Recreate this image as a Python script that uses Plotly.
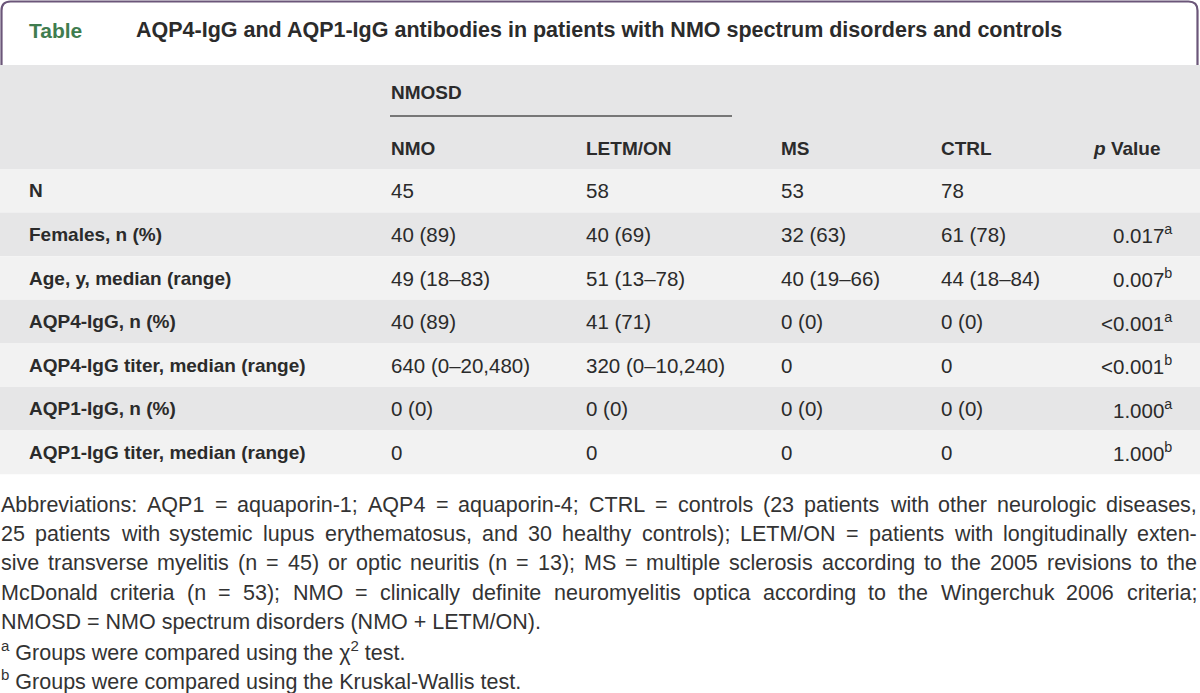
import plotly.graph_objects as go

# ---------------- data ----------------
title_tag = "Table"
title_text = "AQP4-IgG and AQP1-IgG antibodies in patients with NMO spectrum disorders and controls"
group_header = "NMOSD"
columns = ["NMO", "LETM/ON", "MS", "CTRL"]
p_header = "<i>p</i> Value"
row_labels = ["N", "Females, n (%)", "Age, y, median (range)", "AQP4-IgG, n (%)",
              "AQP4-IgG titer, median (range)", "AQP1-IgG, n (%)", "AQP1-IgG titer, median (range)"]
nmo = ["45", "40 (89)", "49 (18–83)", "40 (89)", "640 (0–20,480)", "0 (0)", "0"]
letm_on = ["58", "40 (69)", "51 (13–78)", "41 (71)", "320 (0–10,240)", "0 (0)", "0"]
ms = ["53", "32 (63)", "40 (19–66)", "0 (0)", "0", "0 (0)", "0"]
ctrl = ["78", "61 (78)", "44 (18–84)", "0 (0)", "0", "0 (0)", "0"]
p_values = ["", "0.017", "0.007", "&lt;0.001", "&lt;0.001", "1.000", "1.000"]
p_notes = ["", "a", "b", "a", "b", "a", "b"]
footnote_justified = [
    "Abbreviations: AQP1 = aquaporin-1; AQP4 = aquaporin-4; CTRL = controls (23 patients with other neurologic diseases,",
    "25 patients with systemic lupus erythematosus, and 30 healthy controls); LETM/ON = patients with longitudinally exten-",
    "sive transverse myelitis (n = 45) or optic neuritis (n = 13); MS = multiple sclerosis according to the 2005 revisions to the",
    "McDonald criteria (n = 53); NMO = clinically definite neuromyelitis optica according to the Wingerchuk 2006 criteria;",
]
footnote_plain = [
    "NMOSD = NMO spectrum disorders (NMO + LETM/ON).",
    "<sup>a</sup> Groups were compared using the χ<sup>2</sup> test.",
    "<sup>b</sup> Groups were compared using the Kruskal-Wallis test.",
]

# ---------------- layout / style ----------------
W, H = 1200, 693
FONT = "Liberation Sans, Arial, Helvetica, sans-serif"
TXT = "#2b2b2b"
col_x = [390, 585, 780, 940]
p_right = 1173
p_head_right = 1162
label_x = 28
row_top0 = 169
row_h = 43.6
header_top = 65
foot_y0 = 505
foot_dy = 29.2
foot_right = 1196

# Arial / Liberation Sans advance widths (1/1000 em)
AW = {' ': 278, '!': 278, '(': 333, ')': 333, '+': 584, ',': 278, '-': 333, '.': 278, '/': 278,
      ':': 278, ';': 278, '=': 584, '<': 584, '>': 584}
for d in "0123456789":
    AW[d] = 556
AW.update(dict(zip("ABCDEFGHIJKLMNOPQRSTUVWXYZ",
                   [667, 667, 722, 722, 667, 611, 778, 722, 278, 500, 667, 556, 833, 722, 778, 667,
                    778, 722, 667, 611, 722, 667, 944, 667, 667, 611])))
AW.update(dict(zip("abcdefghijklmnopqrstuvwxyz",
                   [556, 556, 500, 556, 556, 278, 556, 556, 222, 222, 500, 222, 833, 556, 556, 556,
                    556, 333, 500, 278, 556, 500, 722, 500, 500, 500])))


def wem(s):
    return sum(AW.get(c, 556) for c in s) / 1000.0


fig = go.Figure()
shapes = []
ann = []

# header background
shapes.append(dict(type="rect", x0=0, x1=W, y0=header_top, y1=row_top0, fillcolor="#e6e6e7",
                   line=dict(width=0), layer="below"))
# row stripes
for i in range(len(row_labels)):
    y0 = row_top0 + i * row_h
    shapes.append(dict(type="rect", x0=0, x1=W, y0=y0, y1=y0 + row_h,
                       fillcolor="#f2f2f2" if i % 2 == 0 else "#e6e6e7",
                       line=dict(width=0), layer="below"))
# title box with rounded top corners
r = 9
shapes.append(dict(type="path",
                   path=f"M 1.5 {header_top} L 1.5 {1.5 + r} Q 1.5 1.5 {1.5 + r} 1.5 L {1197.5 - r} 1.5 "
                        f"Q 1197.5 1.5 1197.5 {1.5 + r} L 1197.5 {header_top}",
                   line=dict(color="#6b5679", width=2.2), fillcolor="rgba(0,0,0,0)"))
# NMOSD underline
shapes.append(dict(type="line", x0=col_x[0], x1=732, y0=116, y1=116,
                   line=dict(color="#777777", width=2)))


def add(text, x, y, size, xanchor="left", color=TXT, bold=False):
    ann.append(dict(x=x, y=y, xref="x", yref="y", text=text, showarrow=False, xanchor=xanchor,
                    yanchor="middle", borderpad=0,
                    font=dict(family=FONT, size=size, color=color,
                              weight="bold" if bold else "normal")))


# title
add(title_tag, 28, 30, 21, color="#3f7d4f", bold=True)
add(title_text, 135, 30, 21.5, bold=True)

# headers
add(group_header, col_x[0], 92, 19, bold=True)
for c, x in zip(columns, col_x):
    add(c, x, 148, 19, bold=True)
add(p_header, p_head_right, 148, 19, xanchor="right", bold=True)

# body
for i, lab in enumerate(row_labels):
    yc = row_top0 + i * row_h + row_h / 2
    add(lab, label_x, yc, 19, bold=True)
    for col, x in zip([nmo, letm_on, ms, ctrl], col_x):
        add(col[i], x, yc, 20.5)
    if p_values[i]:
        add(f"{p_values[i]}<sup>{p_notes[i]}</sup>", p_right, yc, 20.5, xanchor="right")

# footnotes (justified)
fs = min(21.5, min(foot_right / wem(l) for l in footnote_justified) * 0.985)
for k, line in enumerate(footnote_justified):
    words = line.split(" ")
    widths = [wem(w) * fs for w in words]
    gap = (foot_right - sum(widths)) / (len(words) - 1)
    x = 0
    y = foot_y0 + k * foot_dy
    for w, wd in zip(words, widths):
        add(w, x, y, fs, color="#333333")
        x += wd + gap
for k, line in enumerate(footnote_plain):
    add(line, 0, foot_y0 + (len(footnote_justified) + k) * foot_dy, fs, color="#333333")

fig.update_layout(
    width=W, height=H, margin=dict(l=0, r=0, t=0, b=0),
    paper_bgcolor="white", plot_bgcolor="white",
    xaxis=dict(range=[0, W], visible=False, fixedrange=True),
    yaxis=dict(range=[H, 0], visible=False, fixedrange=True),
    shapes=shapes, annotations=ann, showlegend=False,
)
fig.write_html("out.html", config={"displayModeBar": False},
               post_script="document.body.style.margin='0';document.body.style.overflow='hidden';")
